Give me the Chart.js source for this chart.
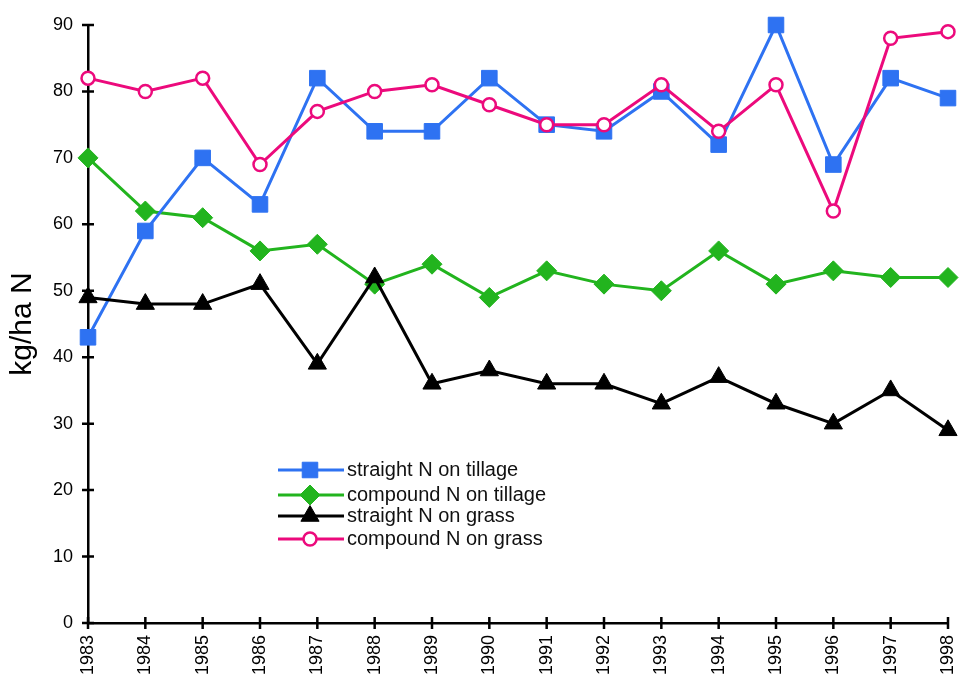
<!DOCTYPE html>
<html>
<head>
<meta charset="utf-8">
<script src="https://cdn.jsdelivr.net/npm/chart.js@4/dist/chart.umd.min.js"></script>
<style>
  html, body { margin: 0; padding: 0; background: #fff; }
  #wrap { width: 960px; height: 675px; }
</style>
</head>
<body>
<div id="wrap"><canvas id="chart" width="960" height="675"></canvas></div>
<script>
const years = ["1983","1984","1985","1986","1987","1988","1989","1990","1991","1992","1993","1994","1995","1996","1997","1998"];
const straightTillage = [43,59,70,63,82,74,74,82,75,74,80,72,90,69,82,79];
const compoundTillage = [70,62,61,56,57,51,54,49,53,51,50,56,51,53,52,52];
const straightGrass   = [49,48,48,51,39,52,36,38,36,36,33,37,33,30,35,29];
const compoundGrass   = [82,80,82,69,77,80,81,78,75,75,81,74,81,62,88,89];
const yTicks = [0,10,20,30,40,50,60,70,80,90];

const BLUE = "#2e72f2", GREEN = "#22b41e", PINK = "#ec0a7c", BLACK = "#000";
const FONT = "'Liberation Sans', Arial, sans-serif";

// ticks that cross both axes
const crossTicks = {
  id: "crossTicks",
  beforeDatasetsDraw(chart){
    const {ctx, chartArea:a, scales:{x, y}} = chart;
    ctx.save();
    ctx.strokeStyle = "#000"; ctx.lineWidth = 2.5;
    ctx.beginPath();
    yTicks.forEach(v => { const py = y.getPixelForValue(v); ctx.moveTo(a.left-6, py); ctx.lineTo(a.left+6, py); });
    years.forEach((c,i) => { const px = x.getPixelForValue(i); ctx.moveTo(px, a.bottom-6); ctx.lineTo(px, a.bottom+6); });
    ctx.stroke();
    ctx.restore();
  }
};

// legend drawn inside the plot
const innerLegend = {
  id: "innerLegend",
  afterDraw(chart){
    const ctx = chart.ctx;
    const rows = [470, 495, 516, 539];
    ctx.save();
    chart.data.datasets.forEach((ds, i) => {
      const yy = rows[i];
      ctx.strokeStyle = ds.borderColor; ctx.lineWidth = 3;
      ctx.beginPath(); ctx.moveTo(278, yy); ctx.lineTo(344, yy); ctx.stroke();
      ctx.fillStyle = ds.pointBackgroundColor;
      ctx.strokeStyle = ds.pointBorderColor;
      ctx.lineWidth = ds.pointBorderWidth;
      Chart.helpers.drawPoint(ctx, {pointStyle: ds.pointStyle, radius: ds.pointRadius, rotation: 0, borderWidth: ds.pointBorderWidth}, 310, yy);
      ctx.fillStyle = "#111";
      ctx.font = "20px " + FONT;
      ctx.textBaseline = "middle"; ctx.textAlign = "left";
      ctx.fillText(ds.label, 347, yy);
    });
    ctx.restore();
  }
};

function zeroPad(scale){ scale.paddingLeft = 0; scale.paddingRight = 0; scale.paddingTop = 0; scale.paddingBottom = 0; }

new Chart(document.getElementById("chart"), {
  type: "line",
  data: {
    labels: years,
    datasets: [
      { label: "straight N on tillage", data: straightTillage, borderColor: BLUE, borderWidth: 3,
        pointStyle: "rect", pointRadius: 11, pointBackgroundColor: BLUE, pointBorderColor: BLUE, pointBorderWidth: 1, order: 2, clip: false },
      { label: "compound N on tillage", data: compoundTillage, borderColor: GREEN, borderWidth: 3,
        pointStyle: "rectRot", pointRadius: 10, pointBackgroundColor: GREEN, pointBorderColor: GREEN, pointBorderWidth: 1, order: 3, clip: false },
      { label: "straight N on grass", data: straightGrass, borderColor: BLACK, borderWidth: 3,
        pointStyle: "triangle", pointRadius: 10.5, pointBackgroundColor: BLACK, pointBorderColor: BLACK, pointBorderWidth: 1, order: 1, clip: false },
      { label: "compound N on grass", data: compoundGrass, borderColor: PINK, borderWidth: 3,
        pointStyle: "circle", pointRadius: 6.5, pointBackgroundColor: "#fff", pointBorderColor: PINK, pointBorderWidth: 2.5, order: 0, clip: false }
    ]
  },
  options: {
    responsive: false,
    animation: false,
    layout: { padding: { top: 25, right: 6, left: 0, bottom: 0 } },
    plugins: { legend: { display: false }, tooltip: { enabled: false } },
    elements: { line: { tension: 0 } },
    scales: {
      x: {
        grid: { display: false, drawTicks: false },
        border: { display: true, color: "#000", width: 2.5 },
        ticks: { color: "#000", font: { family: FONT, size: 18 }, minRotation: 90, maxRotation: 90, padding: 12, autoSkip: false },
        afterFit(s){ s.height = 52; zeroPad(s); }
      },
      y: {
        min: 0, max: 90,
        grid: { display: false, drawTicks: false },
        border: { display: true, color: "#000", width: 2.5 },
        afterBuildTicks(s){ s.ticks = yTicks.map(v => ({value: v})); },
        ticks: { color: "#000", font: { family: FONT, size: 18 }, padding: 15 },
        title: { display: true, text: "kg/ha N", color: "#000", font: { family: FONT, size: 30 }, padding: { top: 5, bottom: 0 } },
        afterFit(s){ s.width = 88; zeroPad(s); }
      }
    }
  },
  plugins: [crossTicks, innerLegend]
});
</script>
</body>
</html>
